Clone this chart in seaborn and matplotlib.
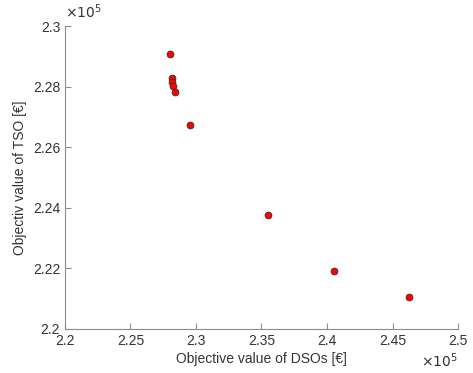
import numpy as np
import pandas as pd
import matplotlib
matplotlib.use('Agg')
import matplotlib.pyplot as plt
import matplotlib.ticker as mticker
import seaborn as sns

# Pareto points, in units of 1e5
dso_obj = [2.2802, 2.2814, 2.2819, 2.2827, 2.2840, 2.2954, 2.3550, 2.4056, 2.4623]
tso_obj = [2.2908, 2.2829, 2.2816, 2.2802, 2.2784, 2.2674, 2.2375, 2.2193, 2.2105]

x_ticks = [2.2, 2.25, 2.3, 2.35, 2.4, 2.45, 2.5]
y_ticks = [2.2, 2.22, 2.24, 2.26, 2.28, 2.3]

df = pd.DataFrame({'dso': dso_obj, 'tso': tso_obj})

sns.set_style('white')
plt.rcParams['font.family'] = ['Liberation Sans', 'DejaVu Sans']

text_col = '#333333'

fig = plt.figure(figsize=(4.73, 3.73), dpi=100)
ax = fig.add_axes([0.1374, 0.118, 0.8309, 0.812])

sns.scatterplot(data=df, x='dso', y='tso', ax=ax, color='#ff0000',
                edgecolor='#303030', linewidth=0.6, s=24, zorder=3)

ax.set_xlim(2.2, 2.5)
ax.set_ylim(2.2, 2.3)
ax.set_xticks(x_ticks)
ax.set_yticks(y_ticks)
fmt = mticker.FuncFormatter(lambda v, p: f'{v:g}')
ax.xaxis.set_major_formatter(fmt)
ax.yaxis.set_major_formatter(fmt)

for s in ['top', 'right']:
    ax.spines[s].set_visible(False)
for s in ['left', 'bottom']:
    ax.spines[s].set_color('#8c8c8c')
    ax.spines[s].set_linewidth(0.8)
ax.tick_params(direction='in', length=4, width=0.8, color='#8c8c8c',
               labelcolor=text_col, labelsize=10, left=True, bottom=True)

ax.set_xlabel('Objective value of DSOs [€]', fontsize=10, color=text_col, labelpad=3)
ax.set_ylabel('Objectiv value of TSO [€]', fontsize=10, color=text_col, labelpad=4)

fig.text(0.1374, 0.945, r'$\times10^{5}$', fontsize=10, color=text_col,
         ha='left', va='bottom', math_fontfamily='dejavusans')
fig.text(0.968, 0.008, r'$\times10^{5}$', fontsize=10, color=text_col,
         ha='right', va='bottom', math_fontfamily='dejavusans')

fig.savefig('out.png', dpi=100)
